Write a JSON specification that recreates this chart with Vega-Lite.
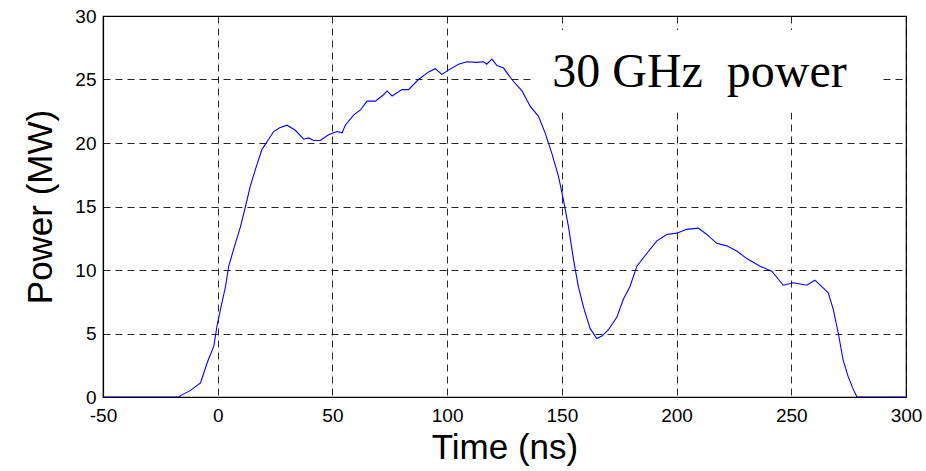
{
  "$schema": "https://vega.github.io/schema/vega-lite/v6.json",
  "autosize": "none",
  "width": 803,
  "height": 381,
  "padding": {"left": 103, "top": 16, "right": 20, "bottom": 74},
  "background": "white",
  "config": {
    "view": {"stroke": "black", "strokeWidth": 1.2},
    "axis": {
      "labelFont": "Liberation Sans",
      "labelFontSize": 19,
      "labelColor": "black",
      "titleFont": "Liberation Sans",
      "titleFontSize": 35,
      "titleFontWeight": "normal",
      "titleColor": "black",
      "domainColor": "black",
      "domainWidth": 1.2,
      "ticks": false,
      "grid": true,
      "gridColor": "black",
      "gridOpacity": 0.85,
      "gridDash": [7, 5],
      "gridWidth": 1
    }
  },
  "layer": [
    {
      "data": {"values": [{"x1": 137, "x2": 290, "y1": 22.4, "y2": 28.9}]},
      "mark": {"type": "rect", "fill": "white", "stroke": null},
      "encoding": {
        "x": {"field": "x1", "type": "quantitative", "scale": {"domain": [-50, 300]}},
        "x2": {"field": "x2"},
        "y": {"field": "y1", "type": "quantitative", "scale": {"domain": [0, 30]}},
        "y2": {"field": "y2"}
      }
    },
    {
      "data": {"values": [
        {"t": -50, "p": 0}, {"t": -17, "p": 0}, {"t": -16, "p": 0.13}, {"t": -12, "p": 0.5},
        {"t": -7.5, "p": 1.1}, {"t": -4.6, "p": 2.7}, {"t": -1.7, "p": 4.0}, {"t": -0.3, "p": 5.6},
        {"t": 1.2, "p": 6.9}, {"t": 3.4, "p": 8.7}, {"t": 4.8, "p": 10.3}, {"t": 7.7, "p": 12.1},
        {"t": 9.9, "p": 13.4}, {"t": 12.1, "p": 15.0}, {"t": 14.2, "p": 16.6}, {"t": 16.4, "p": 17.9},
        {"t": 19.3, "p": 19.5}, {"t": 22.2, "p": 20.3}, {"t": 24.4, "p": 20.9}, {"t": 27, "p": 21.2},
        {"t": 30.2, "p": 21.4}, {"t": 33.8, "p": 21.0}, {"t": 37.5, "p": 20.3}, {"t": 39.6, "p": 20.4},
        {"t": 41.8, "p": 20.2}, {"t": 44.7, "p": 20.2}, {"t": 48.3, "p": 20.65}, {"t": 52.0, "p": 20.9},
        {"t": 54.2, "p": 20.8}, {"t": 55.6, "p": 21.4}, {"t": 59.2, "p": 22.2}, {"t": 62.2, "p": 22.6},
        {"t": 65.1, "p": 23.3}, {"t": 68.7, "p": 23.3}, {"t": 72.3, "p": 23.8}, {"t": 73.8, "p": 24.1},
        {"t": 76.0, "p": 23.7}, {"t": 80.3, "p": 24.2}, {"t": 83.2, "p": 24.2}, {"t": 87.5, "p": 25.0},
        {"t": 91.9, "p": 25.6}, {"t": 94.8, "p": 25.85}, {"t": 97.7, "p": 25.4}, {"t": 100.2, "p": 25.7},
        {"t": 105.0, "p": 26.2}, {"t": 108.6, "p": 26.4}, {"t": 113.0, "p": 26.35}, {"t": 115.9, "p": 26.4},
        {"t": 117.3, "p": 26.2}, {"t": 119.5, "p": 26.6}, {"t": 121.7, "p": 26.1}, {"t": 124.6, "p": 25.9},
        {"t": 128.2, "p": 25.0}, {"t": 132.6, "p": 24.1}, {"t": 136.2, "p": 22.9}, {"t": 139.8, "p": 22.1},
        {"t": 142.7, "p": 20.8}, {"t": 145.6, "p": 19.2}, {"t": 148.5, "p": 17.4}, {"t": 150.7, "p": 15.5},
        {"t": 152.9, "p": 13.4}, {"t": 155.1, "p": 10.8}, {"t": 157.2, "p": 8.7}, {"t": 159.4, "p": 7.1},
        {"t": 162.3, "p": 5.4}, {"t": 165.2, "p": 4.6}, {"t": 167.4, "p": 4.8}, {"t": 170.3, "p": 5.3},
        {"t": 174.0, "p": 6.3}, {"t": 176.8, "p": 7.7}, {"t": 179.7, "p": 8.7}, {"t": 182.7, "p": 10.3},
        {"t": 187.0, "p": 11.3}, {"t": 191.4, "p": 12.3}, {"t": 195.7, "p": 12.8}, {"t": 200.1, "p": 12.9},
        {"t": 204.4, "p": 13.2}, {"t": 209.5, "p": 13.3}, {"t": 213.2, "p": 12.8}, {"t": 217.5, "p": 12.1},
        {"t": 221.9, "p": 11.9}, {"t": 226.2, "p": 11.5}, {"t": 230.6, "p": 10.9}, {"t": 236.4, "p": 10.3},
        {"t": 241.5, "p": 9.9}, {"t": 246.5, "p": 8.8}, {"t": 250.9, "p": 9.0}, {"t": 256.7, "p": 8.8},
        {"t": 260.3, "p": 9.2}, {"t": 263.9, "p": 8.6}, {"t": 266.1, "p": 8.2}, {"t": 268.3, "p": 6.9},
        {"t": 270.5, "p": 5.0}, {"t": 272.6, "p": 2.9}, {"t": 274.8, "p": 1.6}, {"t": 277.0, "p": 0.6},
        {"t": 278.5, "p": 0.05}, {"t": 279, "p": 0}, {"t": 300, "p": 0}
      ]},
      "mark": {"type": "line", "color": "#0000ff", "strokeWidth": 1.1, "clip": true},
      "encoding": {
        "x": {
          "field": "t", "type": "quantitative",
          "scale": {"domain": [-50, 300], "nice": false, "zero": false},
          "axis": {"values": [-50, 0, 50, 100, 150, 200, 250, 300], "labelExpr": "'' + datum.value", "title": "Time (ns)", "labelPadding": 9, "titlePadding": 5, "labelFlush": false}
        },
        "y": {
          "field": "p", "type": "quantitative",
          "scale": {"domain": [0, 30], "nice": false},
          "axis": {"values": [0, 5, 10, 15, 20, 25, 30], "title": "Power (MW)", "labelPadding": 7, "titlePadding": 16, "labelFlush": false}
        }
      }
    },
    {
      "data": {"values": [{"label": "30 GHz\u00a0 power", "tx": 210, "ty": 24.4}]},
      "mark": {"type": "text", "font": "Liberation Serif", "fontSize": 48, "color": "black", "align": "center", "baseline": "alphabetic"},
      "encoding": {
        "x": {"field": "tx", "type": "quantitative"},
        "y": {"field": "ty", "type": "quantitative"},
        "text": {"field": "label"}
      }
    }
  ]
}
